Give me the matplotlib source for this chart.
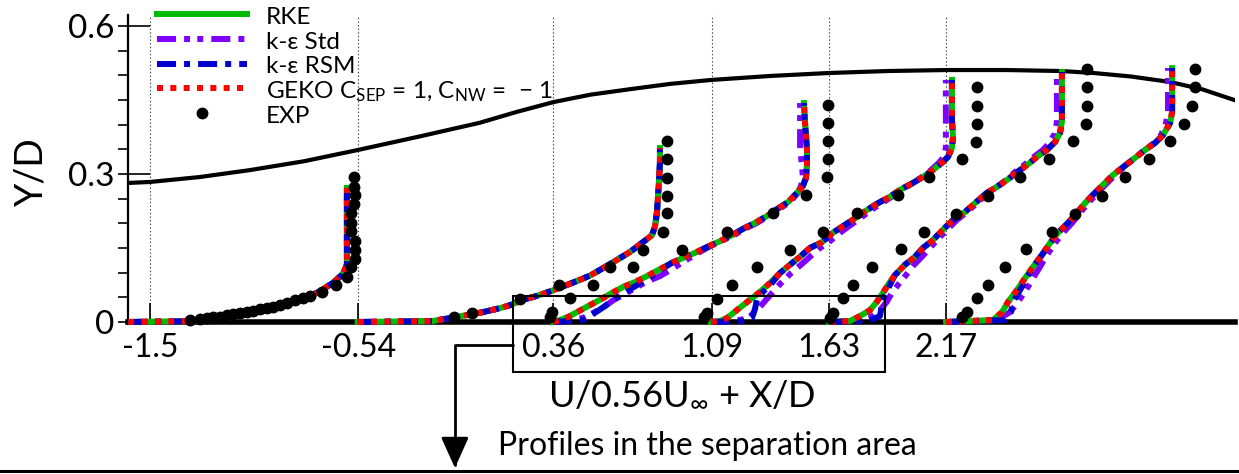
import matplotlib
matplotlib.use('Agg')
import matplotlib.pyplot as plt
from matplotlib.lines import Line2D
from matplotlib.patches import Rectangle

plt.rcParams['font.family'] = ['Lato', 'DejaVu Sans']
plt.rcParams['mathtext.fontset'] = 'custom'
plt.rcParams['mathtext.rm'] = 'Lato'
plt.rcParams['mathtext.it'] = 'Lato:italic'
plt.rcParams['lines.scale_dashes'] = False

# measuring stations X/D
stations = [-1.5, -0.54, 0.36, 1.09, 1.63, 2.17]
station_labels = ['-1.5', '-0.54', '0.36', '1.09', '1.63', '2.17']

# upper wall of the channel
wall_x = [-1.60, -1.50, -1.27, -1.04, -0.79, -0.54, -0.26, 0.02, 0.19, 0.36, 0.53, 0.71, 0.90, 1.09, 1.36,
          1.63, 1.90, 2.17, 2.45, 2.70, 2.85, 3.02, 3.20, 3.35, 3.50]
wall_y = [0.282, 0.284, 0.294, 0.308, 0.326, 0.349, 0.376, 0.404, 0.426, 0.446, 0.461, 0.472, 0.483, 0.491, 0.499,
          0.505, 0.509, 0.511, 0.511, 0.509, 0.505, 0.498, 0.487, 0.472, 0.450]

# experimental profiles (U/0.56Uinf + X/D, Y/D)
exp_x1 = [-0.560, -0.560, -0.555, -0.560, -0.573, -0.573, -0.573, -0.555, -0.555, -0.555, -0.573, -0.592,
          -0.643, -0.707, -0.763, -0.795, -0.832, -0.869, -0.901, -0.933, -0.961, -0.993, -1.025, -1.053,
          -1.085, -1.117, -1.145, -1.177, -1.210, -1.237, -1.269, -1.316]
exp_y1 = [0.294, 0.274, 0.258, 0.239, 0.221, 0.201, 0.185, 0.164, 0.146, 0.128, 0.112, 0.091,
          0.075, 0.061, 0.053, 0.049, 0.045, 0.039, 0.034, 0.030, 0.028, 0.026, 0.022, 0.020,
          0.018, 0.016, 0.014, 0.011, 0.010, 0.008, 0.006, 0.004]
exp_x2 = [-0.098, -0.016, 0.205, 0.385, 0.620, 0.773, 0.865, 0.883, 0.883, 0.883, 0.883, 0.883]
exp_y2 = [0.010, 0.018, 0.047, 0.075, 0.112, 0.146, 0.183, 0.221, 0.256, 0.292, 0.331, 0.367]
exp_x3 = [0.344, 0.353, 0.436, 0.542, 0.727, 0.952, 1.160, 1.372, 1.524, 1.621, 1.626, 1.626, 1.626, 1.626]
exp_y3 = [0.010, 0.020, 0.049, 0.075, 0.112, 0.146, 0.183, 0.221, 0.258, 0.294, 0.331, 0.367, 0.404, 0.440]
exp_x4 = [1.054, 1.068, 1.114, 1.183, 1.299, 1.451, 1.603, 1.760, 1.949, 2.092, 2.244, 2.308, 2.313, 2.313, 2.313]
exp_y4 = [0.010, 0.018, 0.047, 0.075, 0.112, 0.146, 0.183, 0.221, 0.258, 0.294, 0.331, 0.365, 0.402, 0.438, 0.477]
exp_x5 = [1.634, 1.648, 1.694, 1.740, 1.828, 1.962, 2.068, 2.216, 2.363, 2.511, 2.645, 2.755, 2.815, 2.820, 2.820, 2.820]
exp_y5 = [0.008, 0.018, 0.049, 0.075, 0.112, 0.148, 0.183, 0.219, 0.256, 0.294, 0.331, 0.367, 0.402, 0.438, 0.477, 0.513]
exp_x6 = [2.244, 2.267, 2.313, 2.363, 2.442, 2.539, 2.659, 2.765, 2.889, 2.995, 3.106, 3.203, 3.267, 3.304, 3.318, 3.318]
exp_y6 = [0.010, 0.020, 0.049, 0.075, 0.112, 0.148, 0.183, 0.219, 0.256, 0.294, 0.331, 0.367, 0.402, 0.438, 0.477, 0.513]

# CFD profiles, stations 1 and 2 (all models coincide)
s1_y = [0, 0.002, 0.010, 0.024, 0.047, 0.059, 0.079, 0.097, 0.116, 0.166, 0.272]
s1_x = [-1.60, -1.270, -1.118, -0.961, -0.809, -0.730, -0.657, -0.611, -0.592, -0.592, -0.592]
s2_y = [0, 0.002, 0.008, 0.014, 0.020, 0.028, 0.034, 0.045, 0.053, 0.062, 0.072, 0.083, 0.094, 0.109,
        0.126, 0.142, 0.162, 0.176, 0.193, 0.221, 0.254, 0.288, 0.322, 0.353]
s2_x = [-0.542, -0.196, -0.117, -0.039, 0.035, 0.113, 0.159, 0.219, 0.284, 0.344, 0.404, 0.468, 0.528, 0.588,
        0.653, 0.713, 0.773, 0.814, 0.828, 0.837, 0.842, 0.847, 0.851, 0.851]

# station 3
s3_y = [0, 0.004, 0.010, 0.020, 0.032, 0.045, 0.059, 0.071, 0.081, 0.093, 0.105, 0.120, 0.130, 0.140, 0.152,
        0.164, 0.176, 0.189, 0.201, 0.215, 0.229, 0.243, 0.262, 0.276, 0.292, 0.318, 0.349, 0.379, 0.410, 0.444]
s3_rke = [0.358, 0.390, 0.427, 0.469, 0.519, 0.575, 0.630, 0.681, 0.736, 0.791, 0.842, 0.906, 0.957, 1.012, 1.068,
          1.128, 1.183, 1.234, 1.289, 1.345, 1.391, 1.441, 1.483, 1.510, 1.524, 1.529, 1.529, 1.524, 1.519, 1.515]
s3_std = [0.358, 0.460, 0.505, 0.550, 0.597, 0.639, 0.699, 0.745, 0.786, 0.851, 0.897, 0.952, 0.989, 1.026, 1.076,
          1.132, 1.192, 1.243, 1.298, 1.353, 1.399, 1.450, 1.487, 1.501, 1.510, 1.506, 1.497, 1.497, 1.497, 1.497]
s3_rsm = [0.358, 0.496, 0.523, 0.556, 0.597, 0.634, 0.685, 0.731, 0.768, 0.814, 0.851, 0.906, 0.957, 1.012, 1.068,
          1.128, 1.183, 1.234, 1.289, 1.345, 1.391, 1.441, 1.483, 1.510, 1.524, 1.529, 1.529, 1.524, 1.519, 1.515]

# station 4
s4_y = [0, 0.002, 0.008, 0.026, 0.045, 0.061, 0.079, 0.099, 0.116, 0.132, 0.150, 0.162, 0.181, 0.197, 0.213,
        0.227, 0.241, 0.254, 0.268, 0.282, 0.294, 0.308, 0.323, 0.335, 0.353, 0.375, 0.410, 0.444, 0.491]
s4_rke = [1.086, 1.128, 1.160, 1.211, 1.266, 1.312, 1.358, 1.404, 1.450, 1.496, 1.542, 1.598, 1.648, 1.704, 1.759,
          1.805, 1.856, 1.911, 1.957, 2.017, 2.063, 2.109, 2.151, 2.179, 2.197, 2.202, 2.197, 2.197, 2.197]
s4_std = [1.086, 1.197, 1.257, 1.303, 1.340, 1.372, 1.409, 1.455, 1.501, 1.542, 1.588, 1.630, 1.681, 1.731, 1.782,
          1.824, 1.874, 1.920, 1.966, 2.017, 2.058, 2.100, 2.137, 2.160, 2.169, 2.169, 2.169, 2.169, 2.169]
s4_rsm = [1.086, 1.243, 1.275, 1.289, 1.298, 1.326, 1.367, 1.404, 1.450, 1.496, 1.542, 1.598, 1.648, 1.704, 1.759,
          1.805, 1.856, 1.911, 1.957, 2.017, 2.063, 2.109, 2.151, 2.179, 2.197, 2.202, 2.197, 2.197, 2.197]

# station 5
s5_y = [0, 0.002, 0.012, 0.024, 0.041, 0.059, 0.075, 0.095, 0.116, 0.132, 0.150, 0.166, 0.187, 0.207, 0.223,
        0.241, 0.262, 0.274, 0.288, 0.304, 0.318, 0.335, 0.349, 0.365, 0.383, 0.406, 0.440, 0.475, 0.507]
s5_rke = [1.630, 1.727, 1.773, 1.819, 1.851, 1.879, 1.902, 1.934, 1.980, 2.026, 2.063, 2.109, 2.155, 2.202, 2.257,
          2.303, 2.358, 2.404, 2.451, 2.497, 2.543, 2.589, 2.635, 2.672, 2.695, 2.704, 2.704, 2.704, 2.704]
s5_std = [1.630, 1.764, 1.828, 1.865, 1.897, 1.920, 1.948, 1.985, 2.022, 2.058, 2.095, 2.128, 2.174, 2.220, 2.266,
          2.312, 2.363, 2.404, 2.446, 2.487, 2.529, 2.575, 2.617, 2.649, 2.672, 2.681, 2.681, 2.681, 2.681]
s5_rsm = [1.630, 1.810, 1.865, 1.870, 1.874, 1.893, 1.911, 1.934, 1.980, 2.026, 2.063, 2.109, 2.155, 2.202, 2.257,
          2.303, 2.358, 2.404, 2.451, 2.497, 2.543, 2.589, 2.635, 2.672, 2.695, 2.704, 2.704, 2.704, 2.704]

# station 6
s6_y = [0, 0.004, 0.020, 0.041, 0.065, 0.089, 0.112, 0.136, 0.160, 0.181, 0.201, 0.221, 0.241,
        0.258, 0.278, 0.298, 0.314, 0.333, 0.349, 0.363, 0.379, 0.404, 0.426, 0.460, 0.495, 0.515]
s6_rke = [2.170, 2.386, 2.428, 2.456, 2.497, 2.534, 2.571, 2.612, 2.649, 2.686, 2.732, 2.773, 2.810,
          2.847, 2.893, 2.939, 2.986, 3.041, 3.087, 3.133, 3.170, 3.203, 3.212, 3.212, 3.212, 3.212]
s6_std = [2.170, 2.405, 2.465, 2.502, 2.539, 2.571, 2.603, 2.635, 2.672, 2.709, 2.751, 2.787, 2.824,
          2.861, 2.903, 2.949, 2.990, 3.041, 3.087, 3.129, 3.161, 3.184, 3.193, 3.193, 3.193, 3.193]
s6_rsm = [2.170, 2.440, 2.469, 2.479, 2.511, 2.543, 2.571, 2.612, 2.649, 2.686, 2.732, 2.773, 2.810,
          2.847, 2.893, 2.939, 2.986, 3.041, 3.087, 3.133, 3.170, 3.203, 3.212, 3.212, 3.212, 3.212]

# (y, RKE, k-eps Std, k-eps RSM, GEKO) per station; GEKO follows RKE
cfd = [
    (s1_y, s1_x, s1_x, s1_x, s1_x),
    (s2_y, s2_x, s2_x, s2_x, s2_x),
    (s3_y, s3_rke, s3_std, s3_rsm, s3_rke),
    (s4_y, s4_rke, s4_std, s4_rsm, s4_rke),
    (s5_y, s5_rke, s5_std, s5_rsm, s5_rke),
    (s6_y, s6_rke, s6_std, s6_rsm, s6_rke),
]
exp = [(exp_x1, exp_y1), (exp_x2, exp_y2), (exp_x3, exp_y3),
       (exp_x4, exp_y4), (exp_x5, exp_y5), (exp_x6, exp_y6)]

lw = 4.3
st_rke = dict(color='#00bb00', lw=lw, ls='-')
st_std = dict(color='#8000ff', lw=lw, ls=(0, (13.7, 5.8, 4.3, 5.2, 4.3, 5.8)))
st_rsm = dict(color='#0000cc', lw=lw, ls=(0, (13.7, 5.8, 4.3, 5.8)))
st_geko = dict(color='#ff0000', lw=lw, ls=(0, (4.3, 5.3)))
st_exp = dict(color='k', marker='o', ms=7.5, ls='none')

fig = plt.figure(figsize=(12.39, 4.74), dpi=100)
ax = fig.add_axes([0.1033, 0.3082, 0.8935, 0.6595])
ax.set_xlim(-1.601, 3.502)
ax.set_ylim(-0.012, 0.622)

ax.vlines(stations, 0, 0.622, colors='#444444', lw=0.8, linestyles=(0, (1, 1.6)), zorder=1)
ax.plot(wall_x, wall_y, color='k', lw=3, zorder=2)

for y, x_rke, x_std, x_rsm, x_geko in cfd:
    ax.plot(x_std, y, zorder=3, **st_std)
    ax.plot(x_rke, y, zorder=4, **st_rke)
    ax.plot(x_rsm, y, zorder=5, **st_rsm)
    ax.plot(x_geko, y, zorder=6, **st_geko)

for x, y in exp:
    ax.plot(x, y, zorder=7, **st_exp)

# axes styling
for side in ('top', 'right'):
    ax.spines[side].set_visible(False)
ax.spines['bottom'].set_position(('data', 0))
ax.spines['bottom'].set_linewidth(4.0)
ax.spines['bottom'].set_zorder(2.5)
ax.spines['left'].set_linewidth(1.6)
ax.spines['left'].set_bounds(-0.004, 0.622)

ax.set_xticks(stations)
ax.set_xticklabels(station_labels)
ax.tick_params(axis='x', direction='in', length=14, width=1.2, pad=8, labelsize=23)

ax.set_yticks([0, 0.3, 0.6])
ax.set_yticklabels(['0', '0.3', '0.6'])
ax.tick_params(axis='y', direction='in', length=15.5, width=1.2, pad=10, labelsize=24)

# short outer ticks every 0.05
sec = ax.secondary_yaxis('left')
sec.set_yticks([k * 0.05 for k in range(13)])
sec.tick_params(axis='y', direction='out', length=7.5, width=1.2, labelleft=False)
sec.spines['left'].set_visible(False)

ax.set_ylabel('Y/D', fontsize=27, labelpad=13)
ax.set_xlabel(r'U/0.56U$_{\infty}$ + X/D', fontsize=26, labelpad=10)

# frame around the separation-area profiles and the callout arrow
ax.add_patch(Rectangle((0.173, -0.101), 1.715, 0.154, fill=False, lw=1.5, ec='k', clip_on=False, zorder=8))
ax.annotate('', xy=(-0.094, -0.296), xytext=(0.173, -0.047),
            arrowprops=dict(arrowstyle='-|>,head_length=1.0,head_width=0.45', mutation_scale=19,
                            connectionstyle='angle,angleA=180,angleB=90,rad=0',
                            color='k', lw=2.0, shrinkA=0, shrinkB=0),
            annotation_clip=False)
ax.text(1.068, -0.270, 'Profiles in the separation area', fontsize=23, ha='center', va='baseline')

fig.add_artist(Line2D([0, 1], [0.0063, 0.0063], color='k', lw=2.2, transform=fig.transFigure))

# legend, one row every ~25 px from the top
W, H = 1239, 474
legend_rows = [
    ('RKE', st_rke),
    ('k-ε Std', st_std),
    ('k-ε RSM', st_rsm),
    (r'GEKO C$_{\mathrm{SEP}}$ = 1, C$_{\mathrm{NW}}$ =  − 1', st_geko),
    ('EXP', st_exp),
]
for i, (label, st) in enumerate(legend_rows):
    yc = 14 + 24.75 * i
    if st is st_exp:
        fig.add_artist(Line2D([202 / W], [1 - yc / H], transform=fig.transFigure, **st))
    else:
        fig.add_artist(Line2D([157 / W, 247 / W], [1 - yc / H] * 2, transform=fig.transFigure, **st))
    fig.text(266 / W, 1 - (yc + 10) / H, label, fontsize=17.5, ha='left', va='baseline')

fig.savefig('out.png', dpi=100)
